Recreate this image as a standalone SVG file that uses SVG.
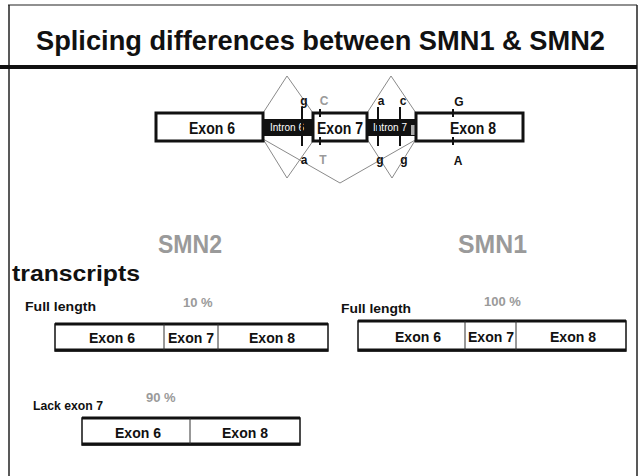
<svg xmlns="http://www.w3.org/2000/svg" width="640" height="476" viewBox="0 0 640 476">
<style>
.t{font-family:"Liberation Sans",Arial,sans-serif;fill:#111}
.b{font-weight:bold}
.g{fill:#9a9a9a}
.ex{fill:#fff;stroke:#111;stroke-width:3}
.intr{fill:#111}
.it{font-family:"Liberation Sans",Arial,sans-serif;fill:#fff;font-size:10px}
.tick{stroke:#111;stroke-width:2}
.sp{fill:none;stroke:#8a8a8a;stroke-width:1}
.tb{fill:#fff;stroke:#111;stroke-width:1.5}
.tt{stroke:#111;stroke-width:3}
.dv{stroke:#333;stroke-width:1}
.et{font-family:"Liberation Sans",Arial,sans-serif;fill:#111;font-weight:bold;font-size:14px;text-anchor:middle}
.gt{font-family:"Liberation Sans",Arial,sans-serif;fill:#111;font-weight:bold;font-size:16px;text-anchor:middle}
</style>
<rect width="640" height="476" fill="#fff"/>
<g id="frame">
<line x1="8" y1="5" x2="637" y2="5" stroke="#222" stroke-width="1.2"/>
<line x1="9" y1="5" x2="9" y2="476" stroke="#222" stroke-width="1.5"/>
<line x1="637" y1="5" x2="637" y2="476" stroke="#222" stroke-width="1.5"/>
<line x1="0" y1="67" x2="637" y2="67" stroke="#111" stroke-width="4"/>
</g>
<g id="title"><text class="t b" x="36" y="50" font-size="27" textLength="569" lengthAdjust="spacingAndGlyphs">Splicing differences between SMN1 &amp; SMN2</text></g>

<g id="connectors">
<polyline class="sp" points="263,113 287,76 313,113"/>
<polyline class="sp" points="263,139 287,178 313,141"/>
<polyline class="sp" points="263,139 340,183 417,139"/>
<polyline class="sp" points="367,113 391,76 416,113"/>
<polyline class="sp" points="367,139 392,178 416,139"/>
</g>

<g id="gene">
<rect class="ex" x="156" y="113" width="107" height="28"/>
<text class="gt" x="212" y="134" textLength="46" lengthAdjust="spacingAndGlyphs">Exon 6</text>
<rect class="intr" x="263" y="119" width="50" height="17"/>
<text class="it" x="287" y="131" text-anchor="middle">Intron 6</text>
<rect class="ex" x="313" y="113" width="54" height="28"/>
<text class="gt" x="340" y="134" textLength="46" lengthAdjust="spacingAndGlyphs">Exon 7</text>
<rect class="intr" x="367" y="119" width="48" height="17"/>
<text class="it" x="390" y="131" text-anchor="middle">Intron 7</text>
<rect x="411" y="125" width="6" height="10" fill="#aaa"/>
<rect class="ex" x="416" y="113" width="107" height="28"/>
<text class="gt" x="473" y="134" textLength="46" lengthAdjust="spacingAndGlyphs">Exon 8</text>
<line class="tick" x1="302" y1="107" x2="302" y2="146"/>
<line class="tick" x1="320" y1="109" x2="320" y2="117"/>
<line class="tick" x1="320" y1="137" x2="320" y2="145"/>
<line class="tick" x1="378" y1="107" x2="378" y2="146"/>
<line class="tick" x1="400" y1="107" x2="400" y2="146"/>
<line class="tick" x1="453" y1="109" x2="453" y2="117"/>
<line class="tick" x1="453" y1="137" x2="453" y2="145"/>
<g class="t b" font-size="12" text-anchor="middle">
<text x="304" y="105">g</text>
<text x="324" y="105" class="g">C</text>
<text x="381" y="105">a</text>
<text x="403" y="105">c</text>
<text x="459" y="106">G</text>
<text x="304" y="164">a</text>
<text x="323" y="164" class="g">T</text>
<text x="380" y="164">g</text>
<text x="404" y="164">g</text>
<text x="458" y="165">A</text>
</g>
</g>

<g id="smn2">
<text class="t b g" x="158" y="253" font-size="25" textLength="64" lengthAdjust="spacingAndGlyphs">SMN2</text>
<text class="t b" x="12" y="281" font-size="22" textLength="128" lengthAdjust="spacingAndGlyphs">transcripts</text>
</g>
<g id="smn2-full">
<text class="t b" x="25" y="311" font-size="13" textLength="71" lengthAdjust="spacingAndGlyphs">Full length</text>
<text class="t b g" x="183" y="307" font-size="13">10 %</text>
<rect class="tb" x="55" y="324" width="273" height="27"/>
<line class="tt" x1="55" y1="324" x2="328" y2="324"/>
<line class="tt" x1="55" y1="350" x2="328" y2="350"/>
<line class="dv" x1="164" y1="324" x2="164" y2="350"/>
<line class="dv" x1="218" y1="324" x2="218" y2="350"/>
<text class="et" x="112" y="343" textLength="46" lengthAdjust="spacingAndGlyphs">Exon 6</text>
<text class="et" x="191" y="343" textLength="46" lengthAdjust="spacingAndGlyphs">Exon 7</text>
<text class="et" x="272" y="343" textLength="46" lengthAdjust="spacingAndGlyphs">Exon 8</text>
</g>
<g id="smn2-lack">
<text class="t b" x="33" y="410" font-size="13" textLength="70" lengthAdjust="spacingAndGlyphs">Lack exon 7</text>
<text class="t b g" x="146" y="402" font-size="13">90 %</text>
<rect class="tb" x="82" y="418" width="218" height="27"/>
<line class="tt" x1="82" y1="418" x2="300" y2="418"/>
<line class="tt" x1="82" y1="444" x2="300" y2="444"/>
<line class="dv" x1="190" y1="418" x2="190" y2="444"/>
<text class="et" x="138" y="438" textLength="46" lengthAdjust="spacingAndGlyphs">Exon 6</text>
<text class="et" x="245" y="438" textLength="46" lengthAdjust="spacingAndGlyphs">Exon 8</text>
</g>
<g id="smn1">
<text class="t b g" x="458" y="253" font-size="25" textLength="69" lengthAdjust="spacingAndGlyphs">SMN1</text>
</g>
<g id="smn1-full">
<text class="t b" x="341" y="313" font-size="13" textLength="70" lengthAdjust="spacingAndGlyphs">Full length</text>
<text class="t b g" x="484" y="306" font-size="13">100 %</text>
<rect class="tb" x="358" y="321" width="268" height="30"/>
<line class="tt" x1="358" y1="321" x2="626" y2="321"/>
<line class="tt" x1="358" y1="350" x2="626" y2="350"/>
<line class="dv" x1="465" y1="321" x2="465" y2="350"/>
<line class="dv" x1="516" y1="321" x2="516" y2="350"/>
<text class="et" x="418" y="342" textLength="46" lengthAdjust="spacingAndGlyphs">Exon 6</text>
<text class="et" x="491" y="342" textLength="46" lengthAdjust="spacingAndGlyphs">Exon 7</text>
<text class="et" x="573" y="342" textLength="46" lengthAdjust="spacingAndGlyphs">Exon 8</text>
</g>
</svg>
